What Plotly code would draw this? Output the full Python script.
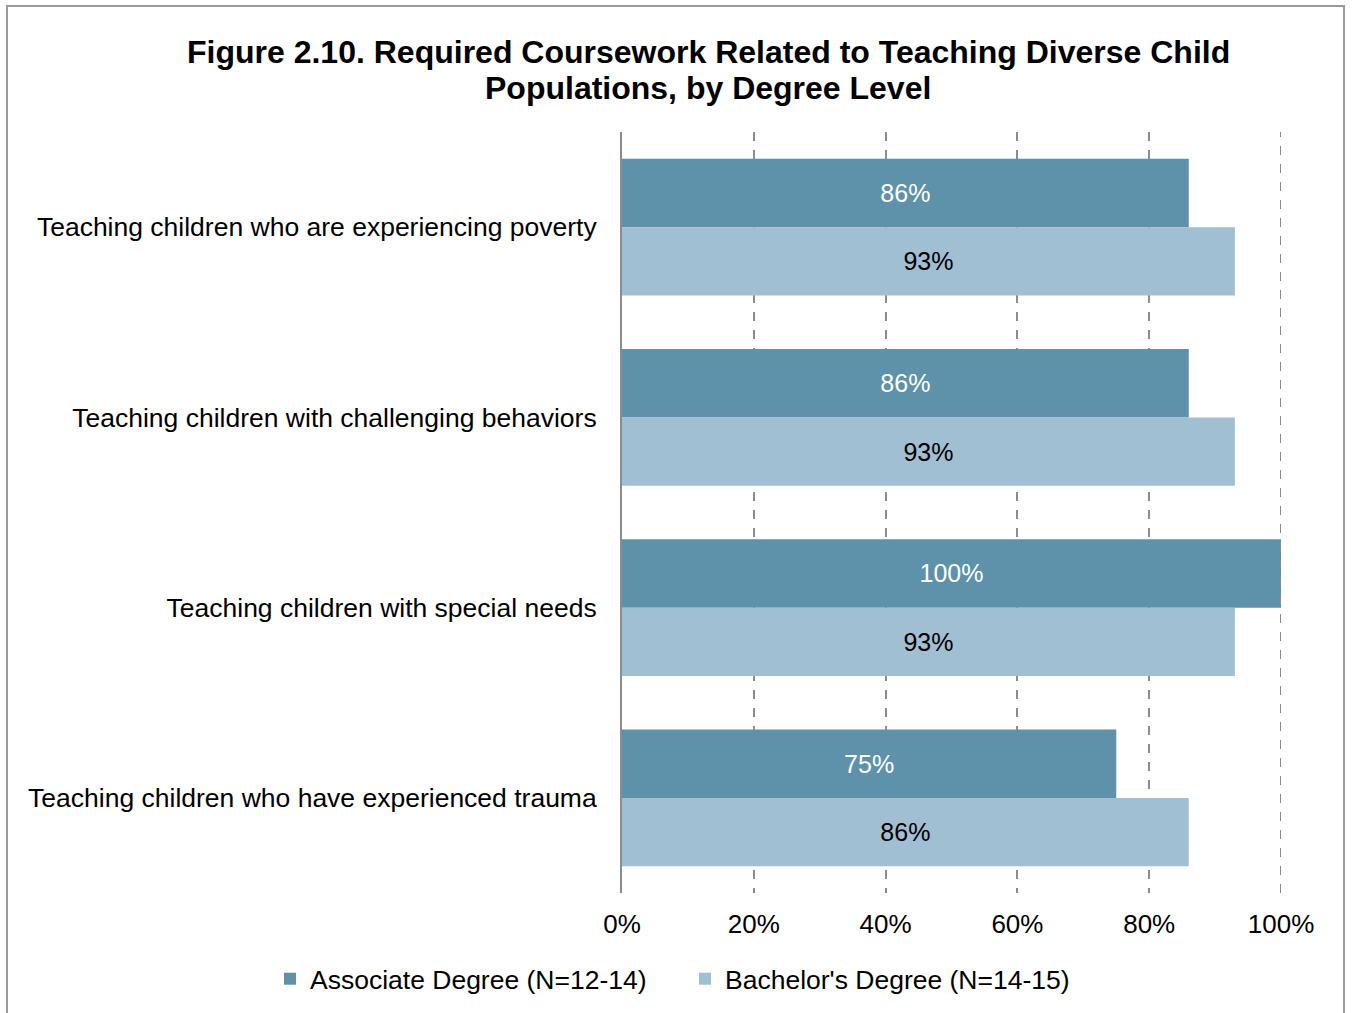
import plotly.graph_objects as go

# Coursework topics (top to bottom) and share of programs requiring them
categories = [
    "Teaching children who are experiencing poverty",
    "Teaching children with challenging behaviors",
    "Teaching children with special needs",
    "Teaching children who have experienced trauma",
]
associate_pct = [86, 86, 100, 75]
bachelor_pct = [93, 93, 93, 86]
series_names = ["Associate Degree (N=12-14)", "Bachelor's Degree (N=14-15)"]
x_ticks = [0, 20, 40, 60, 80, 100]
title_lines = [
    "Figure 2.10. Required Coursework Related to Teaching Diverse Child",
    "Populations, by Degree Level",
]

W, H = 1352, 1013
L, R, T, B = 622, 1281, 132, 893  # plot area in pixels


def px_x(p):
    return (p - L) / (R - L)


def px_y(p):
    return (B - p) / (B - T)


FONT = "Liberation Sans, Arial, Helvetica, sans-serif"
DARK = "#5d92aa"
LIGHT = "#a0bfd2"
GRID = "#8c8c8c"

fig = go.Figure()
fig.add_trace(go.Bar(
    y=categories, x=associate_pct, orientation="h", name=series_names[0],
    marker=dict(color=DARK, line=dict(width=0)),
    text=[f"{v}%" for v in associate_pct], textposition="inside",
    insidetextanchor="middle", textangle=0,
    insidetextfont=dict(color="white", size=25, family=FONT),
))
fig.add_trace(go.Bar(
    y=categories, x=bachelor_pct, orientation="h", name=series_names[1],
    marker=dict(color=LIGHT, line=dict(width=0)),
    text=[f"{v}%" for v in bachelor_pct], textposition="inside",
    insidetextanchor="middle", textangle=0,
    insidetextfont=dict(color="black", size=25, family=FONT),
))

# two-line bold title, each line placed on its own
annotations = [
    dict(text=f"<b>{line}</b>", xref="paper", yref="paper",
         x=px_x(708), y=px_y(yc), xanchor="center", yanchor="middle",
         showarrow=False, font=dict(size=32, family=FONT, color="black"))
    for line, yc in zip(title_lines, [52, 88])
]

fig.update_layout(
    width=W, height=H,
    margin=dict(l=L, r=W - R, t=T, b=H - B, pad=0, autoexpand=False),
    paper_bgcolor="white", plot_bgcolor="white",
    barmode="group", bargap=0.28, bargroupgap=0,
    font=dict(family=FONT, size=26, color="black"),
    uniformtext=dict(minsize=10, mode="show"),
    annotations=annotations,
    xaxis=dict(
        range=[0, 100], tickvals=x_ticks, ticktext=[f"{v}%" for v in x_ticks],
        showgrid=True, gridcolor=GRID, griddash="dash", gridwidth=1.5,
        zeroline=False, showline=False, ticks="", ticklabelstandoff=13,
        tickfont=dict(size=26), fixedrange=True, automargin=False,
    ),
    yaxis=dict(
        autorange="reversed", showline=True, linecolor=GRID, linewidth=2,
        showgrid=False, zeroline=False, ticks="", ticklabelstandoff=18,
        tickfont=dict(size=26.5), automargin=False,
    ),
    legend=dict(
        orientation="h", xref="paper", yref="paper",
        x=px_x(270), xanchor="left",
        y=px_y(979), yanchor="middle", font=dict(size=26.5),
        itemwidth=30, traceorder="normal", entrywidth=370,
    ),
    shapes=[
        # outer frame around the whole figure
        dict(
            type="rect", xref="paper", yref="paper",
            x0=px_x(7), x1=px_x(1344), y0=px_y(1030), y1=px_y(6),
            line=dict(color="#9a9a9a", width=2), fillcolor="rgba(0,0,0,0)",
            layer="below",
        ),
        # gridline at the right edge of the value axis
        dict(
            type="line", xref="x", yref="paper",
            x0=x_ticks[-1], x1=x_ticks[-1], y0=0, y1=1,
            line=dict(color=GRID, width=2, dash="dash"),
            layer="above",
        ),
    ],
)

fig.write_html("out.html")
